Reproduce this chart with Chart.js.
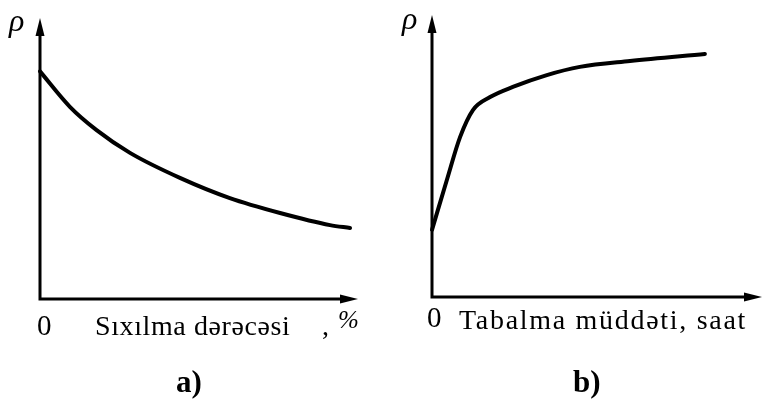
<!DOCTYPE html>
<html>
<head>
<meta charset="utf-8">
<script src="https://cdn.jsdelivr.net/npm/chart.js@4.4.1/dist/chart.umd.min.js"></script>
<style>
  body { margin: 0; background: #fff; }
  #wrap { position: relative; width: 763px; height: 410px; overflow: hidden; }
  canvas { position: absolute; top: 0; }
  .lbl { position: absolute; font-family: "Liberation Serif", "DejaVu Serif", serif; color: #000; white-space: nowrap; line-height: 1; }
  .rho { font-style: italic; font-size: 32px; }
  .cap { font-weight: bold; font-size: 31px; }
</style>
</head>
<body>
<div id="wrap">
  <canvas id="chartA" width="381" height="410" style="left:0"></canvas>
  <canvas id="chartB" width="382" height="410" style="left:381px"></canvas>

  <div class="lbl rho" style="left:9px;top:4px">ρ</div>
  <div class="lbl" style="left:37px;top:311px;font-size:29px">0</div>
  <div class="lbl" style="left:95px;top:312px;font-size:28px;letter-spacing:0.6px">Sıxılma dərəcəsi</div>
  <div class="lbl" style="left:322px;top:312px;font-size:28px">,</div>
  <div class="lbl" style="left:338px;top:307px;font-size:25px;font-style:italic">%</div>
  <div class="lbl cap" style="left:176px;top:366px">a)</div>

  <div class="lbl rho" style="left:402px;top:2px">ρ</div>
  <div class="lbl" style="left:427px;top:303px;font-size:29px">0</div>
  <div class="lbl" style="left:459px;top:306px;font-size:28px;letter-spacing:1.7px">Tabalma müddəti, saat</div>
  <div class="lbl cap" style="left:573px;top:366px">b)</div>
</div>
<script>
// a) density vs. degree of compression, %
const compressX = [0, 9.4, 17.8, 28.3, 44.0, 59.7, 75.5, 91.2, 97.5];
const compressY = [81, 68.4, 60.1, 52.0, 43.1, 35.9, 30.6, 26.3, 25.3];

// b) density vs. soaking time, hours
const soakX = [0, 4.5, 8.5, 12.4, 17.6, 24.5, 34.8, 44.8, 60, 82.7];
const soakY = [23.8, 41.5, 56.7, 66.3, 70.9, 74.5, 78.7, 81.6, 83.7, 86.2];

const toPoints = (xs, ys) => xs.map((x, i) => ({ x: x, y: ys[i] }));

// axes drawn as plain lines with arrow heads at the scale ends
const arrowAxes = {
  id: 'arrowAxes',
  beforeDatasetsDraw(chart) {
    const ctx = chart.ctx;
    const x0 = chart.scales.x.getPixelForValue(0);
    const x1 = chart.scales.x.getPixelForValue(100);
    const y0 = chart.scales.y.getPixelForValue(0);
    const y1 = chart.scales.y.getPixelForValue(100);
    ctx.save();
    ctx.strokeStyle = '#000';
    ctx.fillStyle = '#000';
    ctx.lineWidth = 3;
    ctx.beginPath();
    ctx.moveTo(x0, y1 + 10);
    ctx.lineTo(x0, y0);
    ctx.lineTo(x1 - 10, y0);
    ctx.stroke();
    ctx.beginPath();
    ctx.moveTo(x0, y1);
    ctx.lineTo(x0 - 4.5, y1 + 18);
    ctx.lineTo(x0 + 4.5, y1 + 18);
    ctx.closePath();
    ctx.fill();
    ctx.beginPath();
    ctx.moveTo(x1, y0);
    ctx.lineTo(x1 - 18, y0 - 4.5);
    ctx.lineTo(x1 - 18, y0 + 4.5);
    ctx.closePath();
    ctx.fill();
    ctx.restore();
  }
};

function makeChart(id, xs, ys, padding) {
  return new Chart(document.getElementById(id), {
    type: 'scatter',
    data: {
      datasets: [{
        data: toPoints(xs, ys),
        showLine: true,
        borderColor: '#000',
        borderWidth: 4,
        pointRadius: 0,
        cubicInterpolationMode: 'monotone',
        borderCapStyle: 'round',
        clip: false
      }]
    },
    options: {
      responsive: false,
      animation: false,
      devicePixelRatio: 1,
      layout: { padding: padding },
      plugins: { legend: { display: false }, tooltip: { enabled: false } },
      scales: {
        x: { type: 'linear', min: 0, max: 100, display: false },
        y: { type: 'linear', min: 0, max: 100, display: false }
      }
    },
    plugins: [arrowAxes]
  });
}

makeChart('chartA', compressX, compressY, { left: 40, top: 18, right: 23, bottom: 111 });
makeChart('chartB', soakX, soakY, { left: 51, top: 15, right: 1, bottom: 113 });
</script>
</body>
</html>
